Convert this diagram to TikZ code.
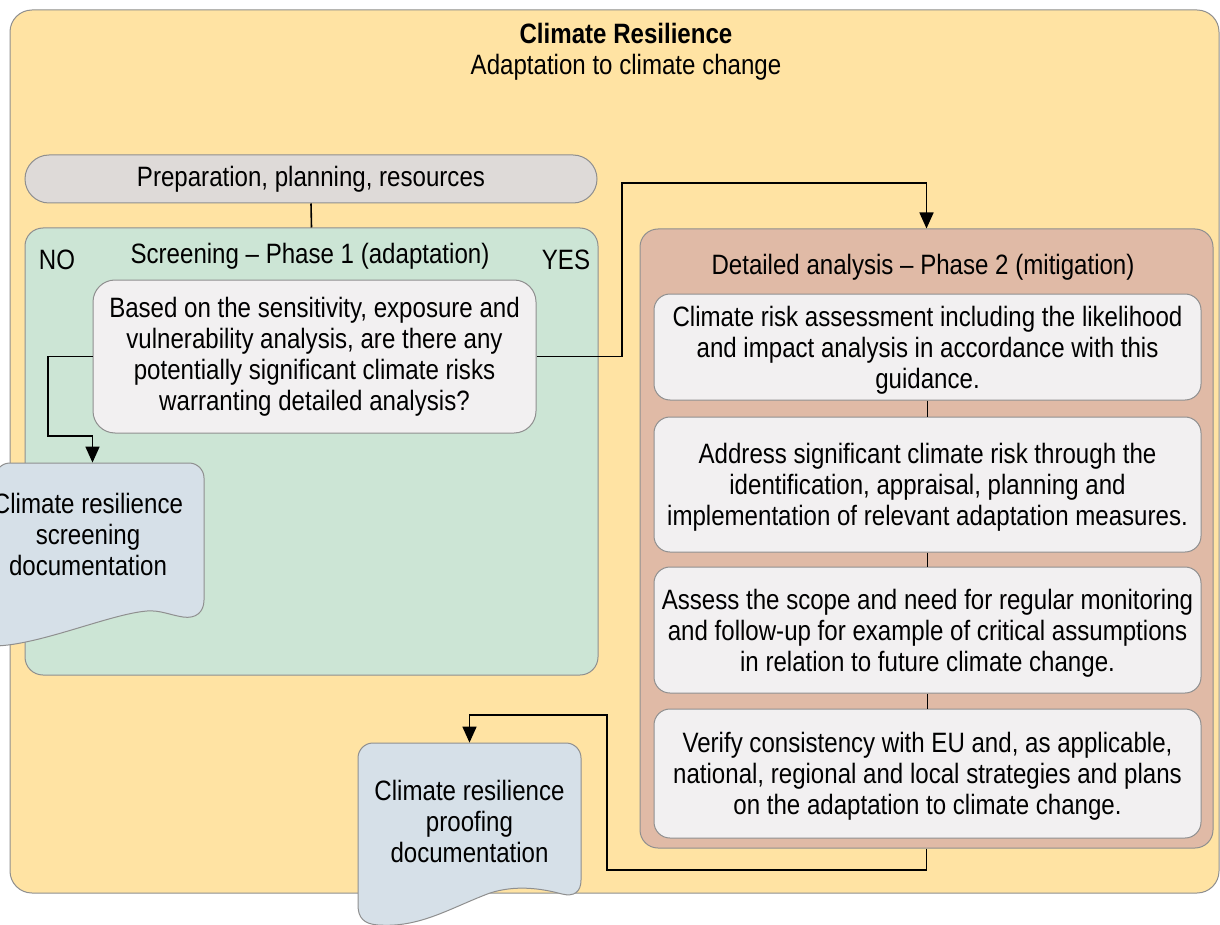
\documentclass[tikz,border=0pt]{standalone}
\usepackage{fontspec}
\setmainfont{Liberation Sans}[FakeStretch=0.86]
\usepackage{tikz}
\usetikzlibrary{arrows.meta,positioning}

\definecolor{outerfill}{HTML}{FFE3A3}
\definecolor{prepfill}{HTML}{DEDAD8}
\definecolor{screenfill}{HTML}{CCE5D5}
\definecolor{phasefill}{HTML}{E0BAA6}
\definecolor{stepfill}{HTML}{F2F0F1}
\definecolor{docfill}{HTML}{D6E0E8}
\definecolor{edge}{HTML}{8F8F8F}

\begin{document}
\begin{tikzpicture}[x=0.5pt,y=-0.5pt,
    every node/.style={font=\fontsize{14}{15.5}\selectfont,inner sep=0pt,align=center},
    panel/.style={draw=edge,line width=0.5pt,rounded corners=9pt},
    stepbox/.style={panel,fill=stepfill,minimum width=273.5pt,rounded corners=8pt,text depth=0pt},
    docshape/.style={draw=edge,line width=0.5pt,fill=docfill},
    link/.style={line width=0.8pt},
    arr/.style={link,-{Triangle[width=7pt,length=8pt]}}]
\useasboundingbox (0,0) rectangle (1220,925);
% Outer frame
\node[panel,fill=outerfill,rounded corners=11pt,minimum width=604.5pt,minimum height=441.5pt] (outer) at (614.5,451.5) {};
\node (title) at (626,52) {\textbf{Climate Resilience}\\Adaptation to climate change};
% Preparation
\node[panel,fill=prepfill,rounded corners=12pt,minimum width=286pt,minimum height=24pt] (prep) at (311,179) {Preparation, planning, resources};
% Screening - phase 1
\node[panel,fill=screenfill,minimum width=286.5pt,minimum height=223.5pt] (screen) at (311.5,451.5) {};
\node (screentitle) at (310,256) {Screening -- Phase 1 (adaptation)};
\node (no) at (57,260) {NO};
\node (yes) at (566,260) {YES};
\node[panel,fill=stepfill,rounded corners=11pt,minimum width=221.5pt,minimum height=76.5pt] (quest) at (314.5,356.5)
  {Based on the sensitivity, exposure and\\vulnerability analysis, are there any\\potentially significant climate risks\\warranting detailed analysis?};
% Detailed analysis - phase 2
\node[panel,fill=phasefill,minimum width=286.5pt,minimum height=309.5pt] (phase) at (926.5,538.5) {};
\node (phasetitle) at (923,267) {Detailed analysis -- Phase 2 (mitigation)};
\node[stepbox,minimum height=53pt] (risk) at (927.5,347)
  {Climate risk assessment including the likelihood\\and impact analysis in accordance with this\\guidance.};
\node[stepbox,minimum height=67.5pt] (address) at (927.5,484.5)
  {Address significant climate risk through the\\identification, appraisal, planning and\\implementation of relevant adaptation measures.};
\node[stepbox,minimum height=63pt] (monitor) at (927.5,630)
  {Assess the scope and need for regular monitoring\\and follow-up for example of critical assumptions\\in relation to future climate change.};
\node[stepbox,minimum height=64.5pt] (verify) at (927.5,773.5)
  {Verify consistency with EU and, as applicable,\\national, regional and local strategies and plans\\on the adaptation to climate change.};
% Documentation
\draw[docshape] (-5,540) [rounded corners=7.5pt] -- (-5,463) -- (204,463) -- (204,560) [sharp corners] -- (204,600)
  .. controls (204,612) and (196,619) .. (183,617)
  .. controls (170,615) and (160,610) .. (147,611)
  .. controls (110,614) and (40,645) .. (-5,646) -- cycle;
\node (scrdoc) at (88,534) [minimum width=96pt,minimum height=71pt] {Climate resilience\\screening\\documentation};
\draw[docshape] (358,820) [rounded corners=7.5pt] -- (358,743) -- (581,743) -- (581,820) [sharp corners] -- (581,880)
  .. controls (581,892) and (574,897) .. (562,894)
  .. controls (540,888) and (515,885) .. (490,893)
  .. controls (450,908) and (420,928) .. (378,925)
  .. controls (364,924) and (358,918) .. (358,905) -- cycle;
\node (proofdoc) at (469.5,821) [minimum width=111.5pt,minimum height=78pt] {Climate resilience\\proofing\\documentation};
% Connectors
\coordinate (noturn) at (48,436);
\coordinate (yesturn) at (622,183);
\coordinate (backturn) at (607,870);
\coordinate (backtop) at (607,715);
\draw[link] (prep.south) -- (screen.north);
\draw[arr] (quest.west) -| (noturn) -| (scrdoc.north -| quest.west);
\draw[arr] (quest.east) -| (yesturn) -| (phase.north);
\draw[link] (risk.south) -- (address.north);
\draw[link] (address.south) -- (monitor.north);
\draw[link] (monitor.south) -- (verify.north);
\draw[arr] (phase.south) |- (backturn) -- (backtop) -| (proofdoc.north);
\end{tikzpicture}
\end{document}
